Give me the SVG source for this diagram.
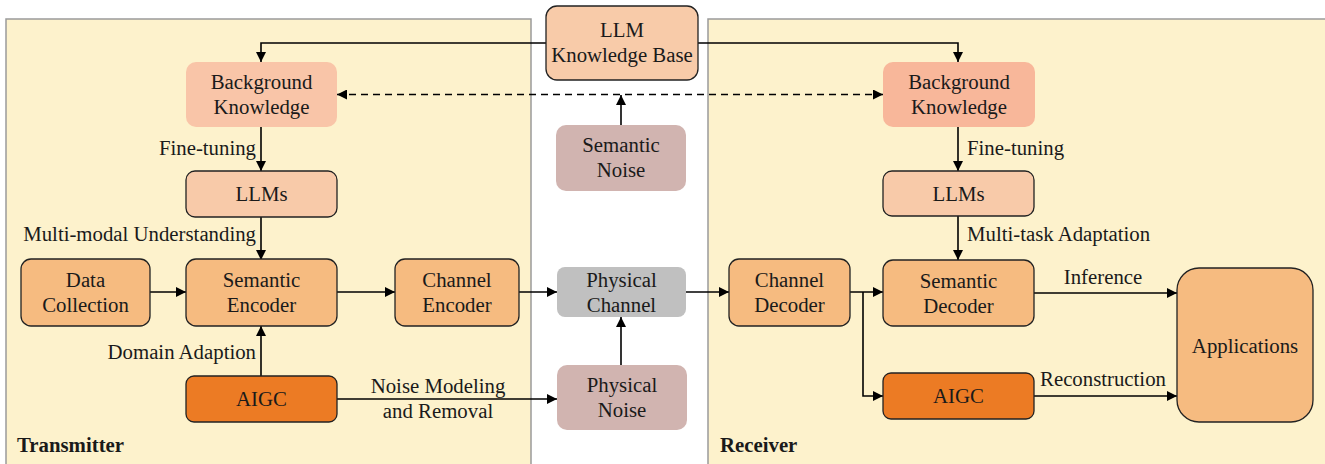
<svg xmlns="http://www.w3.org/2000/svg" width="1325" height="464" viewBox="0 0 1325 464" font-family="'Liberation Serif', Tinos, 'Times New Roman', Times, 'Noto Serif', 'DejaVu Serif', serif">
<defs>
<marker id="ah" viewBox="0 0 10 10" refX="10" refY="5" markerWidth="10" markerHeight="10" markerUnits="userSpaceOnUse" orient="auto-start-reverse">
<path d="M0,0 L10,5 L0,10 Z" fill="#000"/>
</marker>
<style>
text{font-family:'Liberation Serif',Tinos,'Times New Roman',Times,'Noto Serif','DejaVu Serif',serif;font-size:20.8px;fill:#1a1a1a}
.c{text-anchor:middle}
.e{text-anchor:end}
.b{font-weight:bold}
.panel{fill:#FDF2CC;stroke:#9a9a9a;stroke-width:1.5}
.box{stroke:#222;stroke-width:1.3}
.ln{fill:none;stroke:#000;stroke-width:1.6}
.dash{stroke-dasharray:7,5}
</style>
</defs>
<rect width="1325" height="464" fill="#fff"/>
<g id="transmitter-panel">
<rect class="panel" x="6" y="19" width="525" height="450"/>
<text class="b" x="17" y="452">Transmitter</text>
</g>
<g id="receiver-panel">
<rect class="panel" x="708" y="19" width="625" height="450"/>
<text class="b" x="720" y="452">Receiver</text>
</g>
<g id="connectors">
<path class="ln" d="M546,43 H261 V62" marker-end="url(#ah)"/>
<path class="ln" d="M698,43 H958 V62" marker-end="url(#ah)"/>
<path class="ln dash" d="M337,94.5 H883" marker-start="url(#ah)" marker-end="url(#ah)"/>
<path class="ln" d="M621,125 V95" marker-end="url(#ah)"/>
<path class="ln" d="M261,127 V171" marker-end="url(#ah)"/>
<path class="ln" d="M261,217 V260" marker-end="url(#ah)"/>
<path class="ln" d="M150,292 H186" marker-end="url(#ah)"/>
<path class="ln" d="M337,292 H395" marker-end="url(#ah)"/>
<path class="ln" d="M261,376 V326" marker-end="url(#ah)"/>
<path class="ln" d="M337,399 H557" marker-end="url(#ah)"/>
<path class="ln" d="M519,292 H557" marker-end="url(#ah)"/>
<path class="ln" d="M621,365 V317" marker-end="url(#ah)"/>
<path class="ln" d="M686,292 H729" marker-end="url(#ah)"/>
<path class="ln" d="M850,292 H883" marker-end="url(#ah)"/>
<path class="ln" d="M863,292 V396 H883" marker-end="url(#ah)"/>
<path class="ln" d="M958,216 V260" marker-end="url(#ah)"/>
<path class="ln" d="M958,127 V171" marker-end="url(#ah)"/>
<path class="ln" d="M1034,293 H1177" marker-end="url(#ah)"/>
<path class="ln" d="M1034,396 H1177" marker-end="url(#ah)"/>
<text class="e" x="256" y="155">Fine-tuning</text>
<text class="e" x="256" y="241">Multi-modal Understanding</text>
<text class="e" x="256" y="359">Domain Adaption</text>
<text class="c" x="438" y="393">Noise Modeling</text>
<text class="c" x="438" y="418">and Removal</text>
<text x="967" y="155">Fine-tuning</text>
<text x="967" y="241">Multi-task Adaptation</text>
<text class="c" x="1103" y="284">Inference</text>
<text class="c" x="1103" y="386">Reconstruction</text>
</g>
<g id="llm-kb">
<rect class="box" x="546" y="6" width="152" height="74" rx="11" fill="#F8CBA9"/>
<text class="c" x="622" y="37">LLM</text>
<text class="c" x="622" y="62">Knowledge Base</text>
</g>
<g id="bk-left">
<rect x="186" y="62" width="151" height="65" rx="10" fill="#F9C5A8"/>
<text class="c" x="261.5" y="89">Background</text>
<text class="c" x="261.5" y="114">Knowledge</text>
</g>
<g id="bk-right">
<rect x="883" y="62" width="152" height="65" rx="10" fill="#F8B79A"/>
<text class="c" x="959" y="89">Background</text>
<text class="c" x="959" y="114">Knowledge</text>
</g>
<g id="semantic-noise">
<rect x="556" y="125" width="130" height="66" rx="10" fill="#D1B4B0"/>
<text class="c" x="621" y="152">Semantic</text>
<text class="c" x="621" y="177">Noise</text>
</g>
<g id="llms-left">
<rect class="box" x="186" y="171" width="151" height="46" rx="9" fill="#F8CAA9"/>
<text class="c" x="261.5" y="201">LLMs</text>
</g>
<g id="llms-right">
<rect class="box" x="883" y="171" width="151" height="45" rx="9" fill="#F8CAA9"/>
<text class="c" x="958.5" y="201">LLMs</text>
</g>
<g id="data-collection">
<rect class="box" x="21" y="259" width="129" height="67" rx="10" fill="#F6BB80"/>
<text class="c" x="85.5" y="287">Data</text>
<text class="c" x="85.5" y="312">Collection</text>
</g>
<g id="semantic-encoder">
<rect class="box" x="186" y="259" width="151" height="67" rx="10" fill="#F6BB80"/>
<text class="c" x="261.5" y="287">Semantic</text>
<text class="c" x="261.5" y="312">Encoder</text>
</g>
<g id="channel-encoder">
<rect class="box" x="395" y="259" width="124" height="67" rx="10" fill="#F6BB80"/>
<text class="c" x="457" y="287">Channel</text>
<text class="c" x="457" y="312">Encoder</text>
</g>
<g id="physical-channel">
<rect x="557" y="267" width="129" height="50" rx="8" fill="#C0C0C0"/>
<text class="c" x="621.5" y="287">Physical</text>
<text class="c" x="621.5" y="312">Channel</text>
</g>
<g id="physical-noise">
<rect x="557" y="365" width="130" height="65" rx="10" fill="#D1B4B0"/>
<text class="c" x="622" y="392">Physical</text>
<text class="c" x="622" y="417">Noise</text>
</g>
<g id="aigc-left">
<rect class="box" x="186" y="376" width="151" height="46" rx="8" fill="#EC7B24"/>
<text class="c" x="261.5" y="406">AIGC</text>
</g>
<g id="channel-decoder">
<rect class="box" x="729" y="259" width="121" height="67" rx="10" fill="#F6BB80"/>
<text class="c" x="789.5" y="287">Channel</text>
<text class="c" x="789.5" y="312">Decoder</text>
</g>
<g id="semantic-decoder">
<rect class="box" x="883" y="260" width="151" height="66" rx="10" fill="#F6BB80"/>
<text class="c" x="958.5" y="288">Semantic</text>
<text class="c" x="958.5" y="313">Decoder</text>
</g>
<g id="aigc-right">
<rect class="box" x="883" y="373" width="151" height="46" rx="8" fill="#EC7B24"/>
<text class="c" x="958.5" y="403">AIGC</text>
</g>
<g id="applications">
<rect class="box" x="1177" y="268" width="136" height="154" rx="22" fill="#F6BB80"/>
<text class="c" x="1245" y="353">Applications</text>
</g>
</svg>
